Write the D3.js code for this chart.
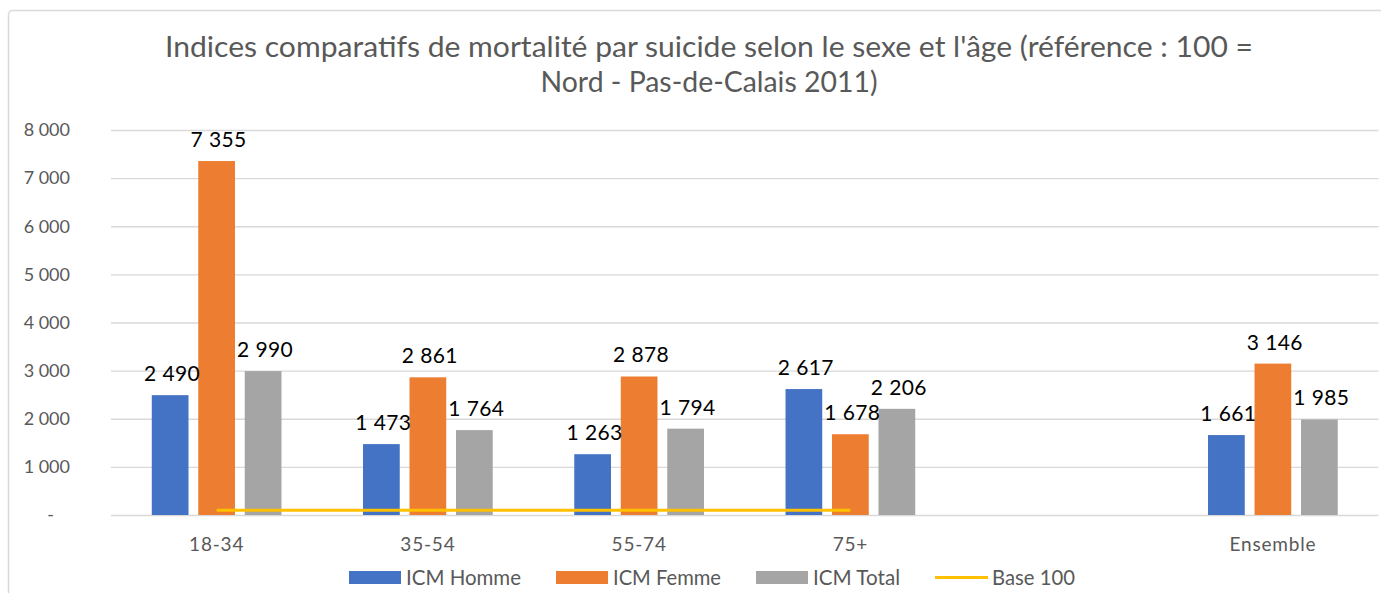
<!DOCTYPE html>
<html>
<head>
<meta charset="utf-8">
<script src="https://cdn.jsdelivr.net/npm/d3@7"></script>
<style>
  html, body { margin: 0; padding: 0; background: #fff; }
  svg { display: block; }
</style>
</head>
<body>
<svg id="chart" width="1381" height="593"></svg>
<script>
// ---- data ----
const titleLines = ["Indices comparatifs de mortalité par suicide selon le sexe et l'âge (référence : 100 =", "Nord - Pas-de-Calais 2011)"];
const categories = ["18-34", "35-54", "55-74", "75+", "", "Ensemble"];
const seriesNames = ["ICM Homme", "ICM Femme", "ICM Total"];
const icmHomme = [2490, 1473, 1263, 2617, null, 1661];
const icmFemme = [7355, 2861, 2878, 1678, null, 3146];
const icmTotal = [2990, 1764, 1794, 2206, null, 1985];
const base100 = [100, 100, 100, 100, null, null];
const lineName = "Base 100";
const yTicks = [0, 1000, 2000, 3000, 4000, 5000, 6000, 7000, 8000];
const yTickLabels = ["-", "1 000", "2 000", "3 000", "4 000", "5 000", "6 000", "7 000", "8 000"];

const seriesValues = [icmHomme, icmFemme, icmTotal];
const colors = ["#4472C4", "#ED7D31", "#A5A5A5"];
const lineColor = "#FFC000";
const textColor = "#595959";
const gridColor = "#D9D9D9";

const fmt = d3.formatLocale({ decimal: ",", thousands: " ", grouping: [3] }).format(",d");

const svg = d3.select("#chart");
const font = "Lato, 'Open Sans', sans-serif";

// frame
svg.append("rect")
  .attr("x", 8.5).attr("y", 10.5).attr("width", 1390).attr("height", 600)
  .attr("rx", 4).attr("fill", "#fff").attr("stroke", gridColor).attr("stroke-width", 1.5);

// scales
const x0 = d3.scaleBand().domain(categories.map((c, i) => i)).range([111, 1378.5]).padding(0);
const groupW = x0.bandwidth() * 0.614;
const x1 = d3.scaleBand().domain(d3.range(seriesNames.length))
  .range([0, groupW]).paddingInner(0.21).paddingOuter(0);
const y = d3.scaleLinear().domain([0, 8000]).range([515, 130]);

// gridlines (via axis)
const yAxis = d3.axisLeft(y).tickValues(yTicks).tickSize(-(1378.5 - 111))
  .tickFormat((d, i) => yTickLabels[i]);
const gy = svg.append("g").attr("transform", "translate(111,0)").call(yAxis);
gy.select(".domain").remove();
gy.selectAll(".tick line").attr("stroke", gridColor).attr("stroke-width", 1.3);
gy.selectAll(".tick text")
  .attr("x", -41).attr("dy", "0.32em")
  .attr("fill", textColor).style("font-family", font).style("font-size", "18px")
  .attr("text-anchor", "end")
  .each(function(d) { if (d === 0) d3.select(this).attr("x", -57); });

// bars
const groups = svg.append("g").selectAll("g")
  .data(categories.map((c, i) => i))
  .join("g")
  .attr("transform", i => `translate(${x0(i) + (x0.bandwidth() - groupW) / 2},0)`);

groups.selectAll("rect")
  .data(i => seriesValues.map((s, k) => ({ k, v: s[i] })).filter(d => d.v != null))
  .join("rect")
  .attr("x", d => x1(d.k))
  .attr("width", x1.bandwidth())
  .attr("y", d => y(d.v))
  .attr("height", d => y(0) - y(d.v))
  .attr("fill", d => colors[d.k]);

// base 100 line
const line = d3.line()
  .defined(d => d.v != null)
  .x(d => x0(d.i) + x0.bandwidth() / 2)
  .y(d => y(d.v));
svg.append("path")
  .datum(base100.map((v, i) => ({ i, v })))
  .attr("d", line)
  .attr("fill", "none").attr("stroke", lineColor).attr("stroke-width", 3);

// data labels
groups.selectAll("text.lbl")
  .data(i => seriesValues.map((s, k) => ({ k, v: s[i] })).filter(d => d.v != null))
  .join("text")
  .attr("class", "lbl")
  .attr("x", d => x1(d.k) + x1.bandwidth() / 2 + 2)
  .attr("y", d => y(d.v) - 14)
  .attr("text-anchor", "middle")
  .attr("fill", "#000")
  .style("font-family", font).style("font-size", "21px")
  .style("letter-spacing", "0.4px")
  .text(d => fmt(d.v));

// x axis labels
const xAxis = d3.axisBottom(x0).tickSize(0).tickFormat(i => categories[i]);
const gx = svg.append("g").attr("transform", "translate(0,515)").call(xAxis);
gx.select(".domain").remove();
gx.selectAll(".tick text")
  .attr("y", 36).attr("dy", 0)
  .attr("fill", textColor).style("font-family", font).style("font-size", "19px")
  .style("letter-spacing", "0.8px");

// title
const title = svg.append("g");
const titleWidths = [1088, 337];
title.selectAll("text")
  .data(titleLines)
  .join("text")
  .attr("x", 709)
  .attr("y", (d, i) => 57 + i * 35)
  .attr("text-anchor", "middle")
  .attr("fill", textColor)
  .style("font-family", font).style("font-size", "29px")
  .attr("textLength", (d, i) => titleWidths[i])
  .attr("lengthAdjust", "spacingAndGlyphs")
  .text(d => d);

// legend
const legendItems = seriesNames.map((n, k) => ({ name: n, type: "rect", color: colors[k] }))
  .concat([{ name: lineName, type: "line", color: lineColor }]);
const legendTextW = [115, 108, 87, 83];
const legend = svg.append("g");
let lx = 349;
legendItems.forEach((d, k) => {
  if (d.type === "rect") {
    legend.append("rect").attr("x", lx).attr("y", 571).attr("width", 52).attr("height", 13).attr("fill", d.color);
  } else {
    legend.append("line").attr("x1", lx).attr("x2", lx + 53).attr("y1", 577.5).attr("y2", 577.5)
      .attr("stroke", d.color).attr("stroke-width", 3);
  }
  legend.append("text")
    .attr("x", lx + 57).attr("y", 585)
    .attr("fill", textColor)
    .style("font-family", font).style("font-size", "22px")
    .attr("textLength", legendTextW[k]).attr("lengthAdjust", "spacingAndGlyphs")
    .text(d.name);
  lx += 57 + legendTextW[k] + 35;
});
</script>
</body>
</html>
